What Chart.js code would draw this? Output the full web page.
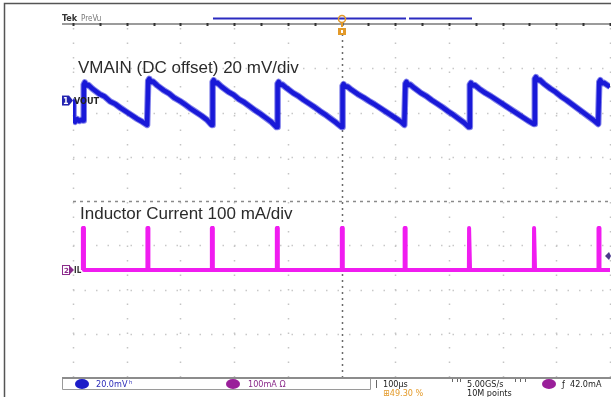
<!DOCTYPE html>
<html>
<head>
<meta charset="utf-8">
<script src="https://cdn.jsdelivr.net/npm/chart.js@4.4.1/dist/chart.umd.min.js"></script>
<style>
    html, body { margin: 0; padding: 0; background: #fff; overflow: hidden; }
    canvas { display: block; }
</style>
</head>
<body>
<canvas id="scopeChart" width="611" height="397"></canvas>
<script>
// Scope capture: VMAIN ripple (ch1) and inductor current (ch2)
// x in microseconds (100 us/div), y in screen divisions

const timeDivs = [0, 100, 200, 300, 400, 500, 600, 700, 800, 900, 1000];
const levelDivs = [-4, -3, -2, -1, 0, 1, 2, 3, 4];

// VOUT trace [time us, divisions]
const voutPoints = [
    [0, 2.25], [1, 1.82], [4, 1.79], [8, 1.85], [12, 1.81], [16, 1.84], [18, 1.82],
    [19, 1.82], [20, 2.63], [22, 2.68], [25, 2.61], [29, 2.62], [37, 2.53], [49, 2.42], [59, 2.36], [69, 2.25], [79, 2.19], [89, 2.10], [99, 2.02], [109, 1.94], [119, 1.86], [129, 1.79], [138, 1.72],
    [139, 1.72], [140, 2.72], [142, 2.76], [145, 2.69], [149, 2.70], [157, 2.61], [169, 2.50], [179, 2.43], [189, 2.33], [199, 2.26], [209, 2.18], [219, 2.09], [229, 2.01], [239, 1.93], [249, 1.84], [258, 1.72],
    [259, 1.72], [260, 2.69], [262, 2.73], [265, 2.66], [269, 2.67], [277, 2.58], [289, 2.47], [299, 2.40], [309, 2.30], [319, 2.23], [329, 2.14], [339, 2.05], [349, 1.97], [359, 1.88], [369, 1.79], [379, 1.67],
    [380, 1.67], [381, 2.65], [383, 2.69], [386, 2.62], [390, 2.63], [398, 2.55], [410, 2.44], [420, 2.37], [430, 2.28], [440, 2.20], [450, 2.12], [460, 2.03], [470, 1.95], [480, 1.86], [490, 1.77], [500, 1.67],
    [501, 1.67], [502, 2.60], [504, 2.64], [507, 2.58], [511, 2.59], [519, 2.51], [531, 2.41], [541, 2.34], [551, 2.26], [561, 2.19], [571, 2.11], [581, 2.03], [591, 1.95], [601, 1.87], [611, 1.79], [617, 1.72],
    [618, 1.72], [619, 2.65], [621, 2.69], [624, 2.62], [628, 2.63], [636, 2.55], [648, 2.44], [658, 2.37], [668, 2.28], [678, 2.20], [688, 2.12], [698, 2.03], [708, 1.95], [718, 1.86], [728, 1.77], [737, 1.67],
    [738, 1.67], [739, 2.63], [741, 2.67], [744, 2.61], [748, 2.62], [756, 2.54], [768, 2.44], [778, 2.37], [788, 2.29], [798, 2.21], [808, 2.13], [818, 2.05], [828, 1.97], [838, 1.89], [848, 1.81], [858, 1.74],
    [859, 1.74], [860, 2.76], [862, 2.80], [865, 2.73], [869, 2.74], [877, 2.65], [889, 2.54], [899, 2.46], [909, 2.36], [919, 2.28], [929, 2.19], [939, 2.10], [949, 2.01], [959, 1.92], [969, 1.83], [978, 1.74],
    [979, 1.74], [980, 2.69], [982, 2.73], [985, 2.66], [989, 2.67], [995, 2.62], [1000, 2.58]
];

// Inductor current pulses
const ilSpikeTimes = [19, 139, 259, 380, 501, 618, 738, 859, 979];
const ilBaseline = -1.56;
const ilPeak = -0.61;
const ilStart = 18;
const ilEnd = 1000;

const traceLabels = ['VMAIN (DC offset) 20 mV/div', 'Inductor Current 100 mA/div'];

const VOUT_BLUE = '#1a1ad8';
const IL_MAGENTA = '#f01cf0';

function buildIlPoints() {
    const pts = [{ x: ilStart, y: ilBaseline }];
    ilSpikeTimes.forEach(function(t) {
        pts.push({ x: t - 0.8, y: ilBaseline });
        pts.push({ x: t - 0.4, y: ilPeak });
        pts.push({ x: t + 1.0, y: ilPeak });
        pts.push({ x: t + 1.4, y: ilBaseline });
    });
    pts.push({ x: ilEnd, y: ilBaseline });
    return pts;
}

const scopeOverlay = {
    id: 'scopeOverlay',
    beforeDatasetsDraw(chart) {
        const ctx = chart.ctx;
        const xs = chart.scales.x;
        const ys = chart.scales.y;
        const top = ys.getPixelForValue(4);
        const bottom = ys.getPixelForValue(-4);
        const left = xs.getPixelForValue(0);
        const right = xs.getPixelForValue(1000);
        ctx.save();

        // dotted graticule
        ctx.lineWidth = 1.5;
        timeDivs.forEach(function(t) {
            const px = Math.round(xs.getPixelForValue(t)) + 0.5;
            ctx.strokeStyle = t === 500 ? '#6a6a6a' : '#c4c4c4';
            ctx.setLineDash(t === 500 ? [2, 4] : [1.5, 13]);
            ctx.beginPath();
            ctx.moveTo(px, top + 4);
            ctx.lineTo(px, bottom);
            ctx.stroke();
        });
        levelDivs.forEach(function(v) {
            if (v === 4 || v === -4) return;
            const py = Math.round(ys.getPixelForValue(v)) + 0.5;
            ctx.strokeStyle = v === 0 ? '#8a8a8a' : '#c8c8c8';
            ctx.setLineDash(v === 0 ? [3, 4] : [1.5, 10]);
            ctx.beginPath();
            ctx.moveTo(left, py);
            ctx.lineTo(right, py);
            ctx.stroke();
        });
        ctx.setLineDash([]);

        // ruler along the top
        ctx.strokeStyle = '#7a7a7a';
        ctx.lineWidth = 1.5;
        ctx.beginPath();
        ctx.moveTo(62, top);
        ctx.lineTo(611, top);
        ctx.stroke();
        ctx.fillStyle = '#333';
        for (let t = 0; t <= 1000; t += 50) {
            const px = xs.getPixelForValue(t);
            ctx.fillRect(Math.round(px) - 0.5, top - 1, 2, 3);
        }

        // bottom edge
        ctx.strokeStyle = '#8c8c8c';
        ctx.lineWidth = 2;
        ctx.beginPath();
        ctx.moveTo(62, bottom);
        ctx.lineTo(611, bottom);
        ctx.stroke();
        ctx.restore();
    },
    afterDatasetsDraw(chart) {
        const ctx = chart.ctx;
        const xs = chart.scales.x;
        const ys = chart.scales.y;
        ctx.save();

        // outer frame
        ctx.strokeStyle = '#555';
        ctx.lineWidth = 1.5;
        ctx.beginPath();
        ctx.moveTo(4.5, 397);
        ctx.lineTo(4.5, 3.5);
        ctx.lineTo(611, 3.5);
        ctx.stroke();

        // trace captions
        ctx.fillStyle = '#2b2b2b';
        ctx.font = '17px "Liberation Sans", Arial, sans-serif';
        ctx.textBaseline = 'alphabetic';
        ctx.fillText(traceLabels[0], 78, 73);
        ctx.fillText(traceLabels[1], 80, 219);

        // header
        ctx.font = 'bold 9px "DejaVu Sans Condensed", "Liberation Sans Narrow", sans-serif';
        ctx.fillStyle = '#333';
        ctx.fillText('Tek', 62, 21);
        ctx.font = '8px "DejaVu Sans Condensed", "Liberation Sans Narrow", sans-serif';
        ctx.fillStyle = '#777';
        ctx.fillText('PreVu', 81, 21);

        // record position bar
        ctx.strokeStyle = '#2b2bc0';
        ctx.lineWidth = 2;
        ctx.beginPath();
        ctx.moveTo(213, 18.5);
        ctx.lineTo(406, 18.5);
        ctx.moveTo(409, 18.5);
        ctx.lineTo(472, 18.5);
        ctx.stroke();

        // trigger position marker
        const tx = Math.round(xs.getPixelForValue(500));
        ctx.strokeStyle = '#e39a2a';
        ctx.fillStyle = '#e39a2a';
        ctx.lineWidth = 1.5;
        ctx.beginPath();
        ctx.arc(tx, 19, 3.5, 0, Math.PI * 2);
        ctx.stroke();
        ctx.fillRect(tx - 1, 22, 2, 5);
        ctx.fillRect(tx - 4, 28, 8, 7);
        ctx.fillStyle = '#fff';
        ctx.fillRect(tx - 1, 30, 2, 3);

        // channel ground markers
        const g1 = ys.getPixelForValue(2.27);
        ctx.fillStyle = '#2323b0';
        ctx.fillRect(62, g1 - 5, 7, 10);
        ctx.beginPath();
        ctx.moveTo(69, g1 - 5);
        ctx.lineTo(73, g1);
        ctx.lineTo(69, g1 + 5);
        ctx.fill();
        ctx.fillStyle = '#fff';
        ctx.font = 'bold 8px "DejaVu Sans", sans-serif';
        ctx.fillText('1', 63, g1 + 3);
        ctx.fillStyle = '#222';
        ctx.font = 'bold 9px "DejaVu Sans Condensed", "Liberation Sans Narrow", sans-serif';
        ctx.fillText('VOUT', 74, g1 + 3);

        const g2 = ys.getPixelForValue(ilBaseline);
        ctx.strokeStyle = '#8a2a8a';
        ctx.lineWidth = 1;
        ctx.strokeRect(62.5, g2 - 4.5, 7, 9);
        ctx.fillStyle = '#8a2a8a';
        ctx.font = 'bold 7px "DejaVu Sans", sans-serif';
        ctx.fillText('2', 64, g2 + 3);
        ctx.beginPath();
        ctx.moveTo(70, g2 - 4);
        ctx.lineTo(74, g2);
        ctx.lineTo(70, g2 + 4);
        ctx.fill();
        ctx.fillStyle = '#333';
        ctx.font = 'bold 8px "DejaVu Sans Condensed", "Liberation Sans Narrow", sans-serif';
        ctx.fillText('IL', 74, g2 + 3);

        // trigger level marker on the right
        ctx.fillStyle = '#4a3a8a';
        ctx.beginPath();
        ctx.moveTo(605, 256);
        ctx.lineTo(609, 252);
        ctx.lineTo(611, 256);
        ctx.lineTo(609, 260);
        ctx.fill();

        // readout strip
        ctx.strokeStyle = '#9a9a9a';
        ctx.lineWidth = 1;
        ctx.beginPath();
        ctx.moveTo(62.5, 379);
        ctx.lineTo(62.5, 389.5);
        ctx.lineTo(370.5, 389.5);
        ctx.lineTo(370.5, 379);
        ctx.stroke();

        ctx.fillStyle = '#1c1cc8';
        ctx.beginPath();
        ctx.ellipse(82, 384, 7, 5, 0, 0, Math.PI * 2);
        ctx.fill();
        ctx.fillStyle = '#9a1f9a';
        ctx.beginPath();
        ctx.ellipse(233, 384, 7, 5, 0, 0, Math.PI * 2);
        ctx.fill();
        ctx.beginPath();
        ctx.ellipse(549, 384, 7, 5, 0, 0, Math.PI * 2);
        ctx.fill();

        ctx.font = '9px "DejaVu Sans Condensed", "Liberation Sans Narrow", sans-serif';
        ctx.fillStyle = '#2a2ab8';
        ctx.fillText('20.0mV', 96, 387);
        ctx.fillText('ʰ', 129, 387);
        ctx.fillStyle = '#8a2a8a';
        ctx.fillText('100mA Ω', 248, 387);
        ctx.fillStyle = '#222';
        ctx.fillText('100µs', 383, 387);
        ctx.fillText('5.00GS/s', 467, 387);
        ctx.fillText('10M points', 467, 396);
        ctx.fillText('ƒ  42.0mA', 562, 387);
        ctx.fillStyle = '#e39a2a';
        ctx.fillText('⊞49.30 %', 383, 396);

        // small position brackets on the strip
        ctx.strokeStyle = '#666';
        ctx.beginPath();
        [452, 457, 460, 515, 520, 525].forEach(function(px) {
            ctx.moveTo(px + 0.5, 379);
            ctx.lineTo(px + 0.5, 382);
        });
        ctx.moveTo(376.5, 380);
        ctx.lineTo(376.5, 388);
        ctx.stroke();
        ctx.restore();
    }
};

document.addEventListener('DOMContentLoaded', function() {
    const scopeCtx = document.getElementById('scopeChart');
    const voutData = voutPoints.map(function(p) { return { x: p[0], y: p[1] }; });
    const scopeChart = new Chart(scopeCtx.getContext('2d'), {
        type: 'line',
        data: {
            datasets: [{
                // soft edge for the noisy trace
                label: 'VOUT halo',
                data: voutData,
                borderColor: 'rgba(26, 26, 216, 0.55)',
                borderWidth: 6.5,
                pointRadius: 0,
                tension: 0,
                borderJoinStyle: 'round'
            }, {
                label: 'VOUT',
                data: voutData,
                borderColor: VOUT_BLUE,
                borderWidth: 4.5,
                pointRadius: 0,
                tension: 0,
                borderJoinStyle: 'round'
            }, {
                label: 'IL',
                data: buildIlPoints(),
                borderColor: IL_MAGENTA,
                borderWidth: 4,
                pointRadius: 0,
                tension: 0,
                borderJoinStyle: 'round'
            }]
        },
        options: {
            responsive: false,
            animation: false,
            layout: {
                padding: { left: 73, right: 1, top: 24, bottom: 19 }
            },
            scales: {
                x: { type: 'linear', min: 0, max: 1000, display: false },
                y: { type: 'linear', min: -4, max: 4, display: false }
            },
            plugins: {
                legend: { display: false },
                tooltip: { enabled: false }
            }
        },
        plugins: [scopeOverlay]
    });
});
</script>
</body>
</html>
